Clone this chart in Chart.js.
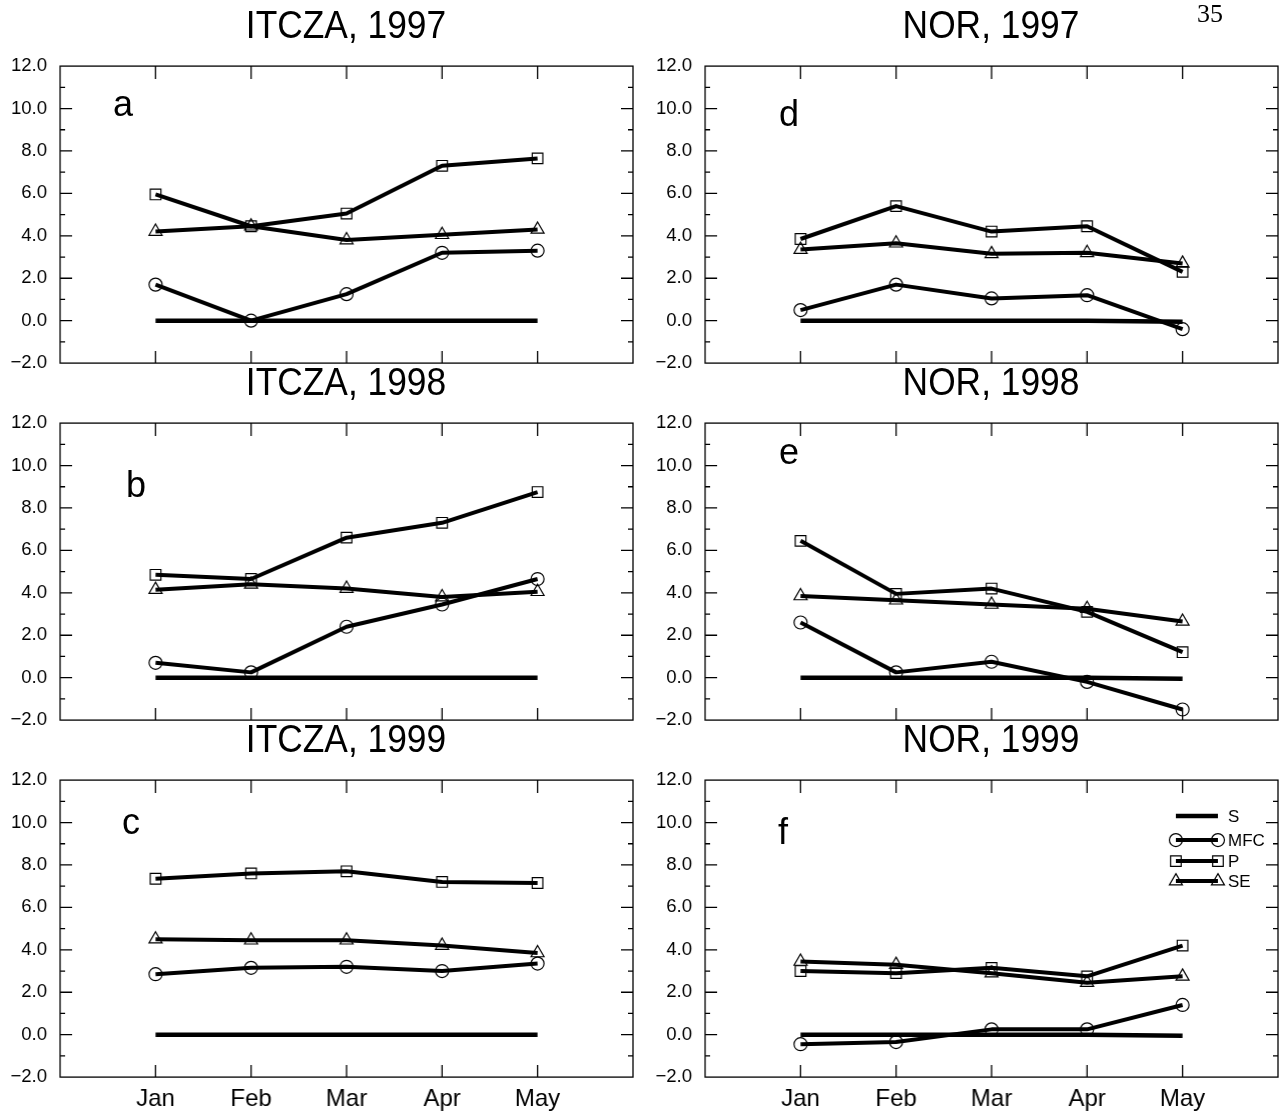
<!DOCTYPE html>
<html>
<head>
<meta charset="utf-8">
<script src="https://cdn.jsdelivr.net/npm/chart.js@4.4.0/dist/chart.umd.min.js"></script>
<style>
  body { margin: 0; background: #fff; width: 1280px; height: 1114px; position: relative; overflow: hidden; font-family: "Liberation Sans", Arial, sans-serif; color: #000; }
  canvas.panel { position: absolute; }
  .title { position: absolute; width: 400px; text-align: center; font-size: 38px; line-height: 38px; transform: scaleX(0.93); white-space: nowrap; }
  .letter { position: absolute; font-size: 36px; line-height: 36px; }
  .pageno { position: absolute; left: 1197px; top: 1px; font-family: "Liberation Serif", serif; font-size: 26px; line-height: 26px; }
</style>
</head>
<body>
<canvas class="panel" id="pa" width="640" height="357" style="left:0;top:46px"></canvas>
<canvas class="panel" id="pb" width="640" height="357" style="left:0;top:403px"></canvas>
<canvas class="panel" id="pc" width="640" height="357" style="left:0;top:760px"></canvas>
<canvas class="panel" id="pd" width="635" height="357" style="left:645px;top:46px"></canvas>
<canvas class="panel" id="pe" width="635" height="357" style="left:645px;top:403px"></canvas>
<canvas class="panel" id="pf" width="635" height="357" style="left:645px;top:760px"></canvas>

<div class="title" style="left:146px;top:6px">ITCZA, 1997</div>
<div class="title" style="left:146px;top:363px">ITCZA, 1998</div>
<div class="title" style="left:146px;top:720px">ITCZA, 1999</div>
<div class="title" style="left:791px;top:6px">NOR, 1997</div>
<div class="title" style="left:791px;top:363px">NOR, 1998</div>
<div class="title" style="left:791px;top:720px">NOR, 1999</div>
<div class="pageno">35</div>

<div class="letter" style="left:113px;top:86px">a</div>
<div class="letter" style="left:126px;top:467px">b</div>
<div class="letter" style="left:122px;top:804px">c</div>
<div class="letter" style="left:779px;top:96px">d</div>
<div class="letter" style="left:779px;top:434px">e</div>
<div class="letter" style="left:778px;top:814px">f</div>

<script>
const months = ["Jan", "Feb", "Mar", "Apr", "May"];
const yTicks = [-2, 0, 2, 4, 6, 8, 10, 12];

// ITCZA
const itcza97S = [0, 0, 0, 0, 0];
const itcza97MFC = [1.7, 0.0, 1.25, 3.2, 3.3];
const itcza97P = [5.95, 4.45, 5.05, 7.3, 7.65];
const itcza97SE = [4.2, 4.45, 3.8, 4.05, 4.3];

const itcza98S = [0, 0, 0, 0, 0];
const itcza98MFC = [0.7, 0.25, 2.4, 3.45, 4.65];
const itcza98P = [4.85, 4.65, 6.6, 7.3, 8.75];
const itcza98SE = [4.15, 4.4, 4.2, 3.8, 4.05];

const itcza99S = [0, 0, 0, 0, 0];
const itcza99MFC = [2.85, 3.15, 3.2, 3.0, 3.35];
const itcza99P = [7.35, 7.6, 7.7, 7.2, 7.15];
const itcza99SE = [4.5, 4.45, 4.45, 4.2, 3.85];

// NOR
const nor97S = [0, 0, 0, 0, -0.05];
const nor97MFC = [0.5, 1.7, 1.05, 1.2, -0.4];
const nor97P = [3.85, 5.4, 4.2, 4.45, 2.3];
const nor97SE = [3.35, 3.65, 3.15, 3.2, 2.7];

const nor98S = [0, 0, 0, 0, -0.05];
const nor98MFC = [2.6, 0.25, 0.75, -0.2, -1.5];
const nor98P = [6.45, 3.95, 4.2, 3.1, 1.2];
const nor98SE = [3.85, 3.65, 3.45, 3.25, 2.65];

const nor99S = [0, 0, 0, 0, -0.05];
const nor99MFC = [-0.45, -0.35, 0.25, 0.25, 1.4];
const nor99P = [3.0, 2.9, 3.15, 2.75, 4.2];
const nor99SE = [3.45, 3.3, 2.9, 2.45, 2.75];

const framePlugin = {
  id: "frame",
  afterDraw(chart) {
    const { ctx, chartArea: a, scales: { x, y } } = chart;
    ctx.save();
    ctx.strokeStyle = "#000";
    ctx.lineWidth = 1.3;
    ctx.strokeRect(a.left, a.top, a.right - a.left, a.bottom - a.top);
    ctx.beginPath();
    for (let v = -1; v < 12; v++) {
      const py = y.getPixelForValue(v);
      const len = v % 2 === 0 ? 12 : 5;
      ctx.moveTo(a.left, py);
      ctx.lineTo(a.left + len, py);
      ctx.moveTo(a.right, py);
      ctx.lineTo(a.right - len, py);
    }
    months.forEach((m, i) => {
      const px = x.getPixelForValue(i + 1);
      ctx.moveTo(px, a.top);
      ctx.lineTo(px, a.top + 13);
      ctx.moveTo(px, a.bottom);
      ctx.lineTo(px, a.bottom - 12);
    });
    ctx.stroke();
    ctx.restore();
  }
};

const legendPlugin = {
  id: "sampleLegend",
  afterDraw(chart) {
    const { ctx, chartArea: a } = chart;
    const rows = [36, 60, 81, 101];
    ctx.save();
    chart.data.datasets.forEach((ds, i) => {
      const yy = a.top + rows[i];
      const x0 = a.left + 470;
      const x1 = a.left + 512;
      ctx.strokeStyle = "#000";
      ctx.lineWidth = ds.borderWidth;
      ctx.beginPath();
      ctx.moveTo(x0, yy);
      ctx.lineTo(x1, yy);
      ctx.stroke();
      if (ds.pointRadius > 0) {
        ctx.lineWidth = ds.pointBorderWidth;
        ctx.fillStyle = "rgba(0,0,0,0)";
        [x0, x1].forEach((px) => {
          Chart.helpers.drawPoint(ctx, { pointStyle: ds.pointStyle, radius: ds.pointRadius, borderWidth: ds.pointBorderWidth, rotation: 0 }, px, yy);
        });
      }
      ctx.fillStyle = "#000";
      ctx.font = '17px "Liberation Sans"';
      ctx.textBaseline = "middle";
      ctx.textAlign = "left";
      ctx.fillText(ds.label, a.left + 522, yy + 1);
    });
    ctx.restore();
  }
};

function buildDatasets(s, mfc, p, se) {
  const pts = (arr) => arr.map((v, i) => ({ x: i + 1, y: v }));
  return [
    { label: "S", data: pts(s), pointRadius: 0, pointStyle: "circle", borderWidth: 4.5 },
    { label: "MFC", data: pts(mfc), pointStyle: "circle", pointRadius: 6.5 },
    { label: "P", data: pts(p), pointStyle: "rect", pointRadius: 7.5 },
    { label: "SE", data: pts(se), pointStyle: "triangle", pointRadius: 7.5 }
  ].map((d) => Object.assign({
    borderColor: "#000",
    borderWidth: 4,
    borderJoinStyle: "round",
    pointBorderColor: "#000",
    pointBackgroundColor: "rgba(0,0,0,0)",
    pointBorderWidth: 1.2,
    pointHoverRadius: d.pointRadius,
    tension: 0,
    clip: false
  }, d));
}

// move / resize the canvas so the plot box lands on the given page box
function placePanel(chart, box) {
  let a = chart.chartArea;
  const w = chart.width + (box.right - box.left) - (a.right - a.left);
  const h = chart.height + (box.bottom - box.top) - (a.bottom - a.top);
  chart.resize(w, h);
  a = chart.chartArea;
  chart.canvas.style.left = (box.left - a.left) + "px";
  chart.canvas.style.top = (box.top - a.top) + "px";
}

function makePanel(id, sets, showX, box, extra) {
  const chart = new Chart(document.getElementById(id), {
    type: "line",
    data: { datasets: sets },
    options: {
      responsive: false,
      maintainAspectRatio: false,
      animation: false,
      devicePixelRatio: 1,
      events: [],
      layout: { padding: { top: 20, right: 4, left: 0, bottom: 0 } },
      plugins: { legend: { display: false }, tooltip: { enabled: false } },
      scales: {
        x: {
          type: "linear",
          min: 0,
          max: 6,
          grid: { display: false, drawTicks: false },
          border: { display: false },
          afterBuildTicks: (s) => { s.ticks = [0, 1, 2, 3, 4, 5, 6].map((v) => ({ value: v })); },
          afterFit: (s) => { s.height = 40; },
          ticks: {
            display: showX,
            autoSkip: false,
            maxRotation: 0,
            padding: 8,
            color: "#000",
            font: { family: "Liberation Sans", size: 24 },
            callback: (v) => months[v - 1] || ""
          }
        },
        y: {
          min: -2,
          max: 12,
          grid: { display: false, drawTicks: false },
          border: { display: false },
          afterBuildTicks: (s) => { s.ticks = yTicks.map((v) => ({ value: v })); },
          afterFit: (s) => { s.width = 60; },
          ticks: {
            padding: 13,
            color: "#000",
            font: { family: "Liberation Sans", size: 18.5 },
            callback: (v) => (v < 0 ? "\u2212" : "") + Math.abs(v).toFixed(1)
          }
        }
      }
    },
    plugins: [framePlugin].concat(extra || [])
  });
  placePanel(chart, box);
  return chart;
}

const leftCol = { left: 60, right: 632 };
const rightCol = { left: 705, right: 1277 };
const rows = [{ top: 66, bottom: 363 }, { top: 423, bottom: 720 }, { top: 780, bottom: 1077 }];

makePanel("pa", buildDatasets(itcza97S, itcza97MFC, itcza97P, itcza97SE), false, Object.assign({}, leftCol, rows[0]));
makePanel("pb", buildDatasets(itcza98S, itcza98MFC, itcza98P, itcza98SE), false, Object.assign({}, leftCol, rows[1]));
makePanel("pc", buildDatasets(itcza99S, itcza99MFC, itcza99P, itcza99SE), true, Object.assign({}, leftCol, rows[2]));
makePanel("pd", buildDatasets(nor97S, nor97MFC, nor97P, nor97SE), false, Object.assign({}, rightCol, rows[0]));
makePanel("pe", buildDatasets(nor98S, nor98MFC, nor98P, nor98SE), false, Object.assign({}, rightCol, rows[1]));
makePanel("pf", buildDatasets(nor99S, nor99MFC, nor99P, nor99SE), true, Object.assign({}, rightCol, rows[2]), [legendPlugin]);
</script>
</body>
</html>
